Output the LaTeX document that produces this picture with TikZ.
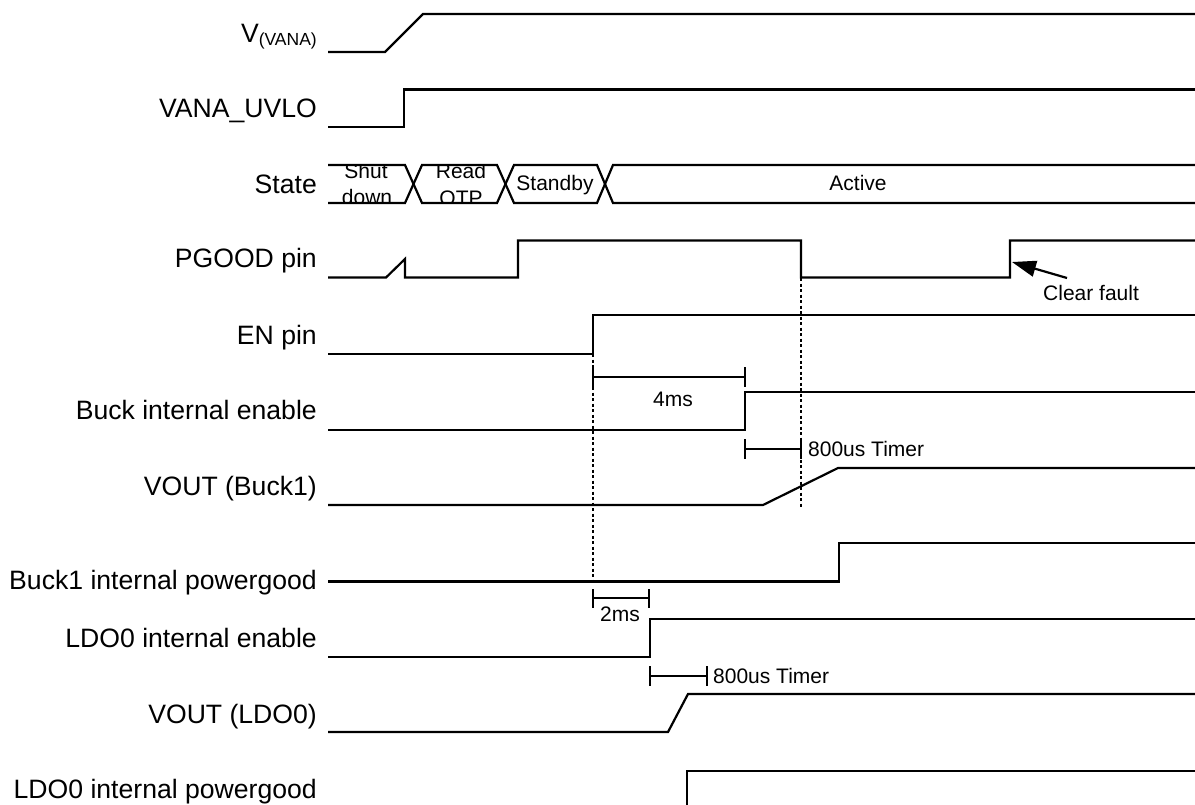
\documentclass[tikz,border=0pt]{standalone}
\usepackage{fontspec}
\setmainfont{Liberation Sans}
\usetikzlibrary{arrows.meta}
\begin{document}
\begin{tikzpicture}[x=1pt,y=-1pt,
  sig/.style={line width=2.2pt, line join=miter},
  lbl/.style={anchor=base east, inner sep=0pt, font=\fontsize{26.6}{30}\selectfont},
  small/.style={inner sep=0pt, font=\fontsize{21}{24}\selectfont},
  guide/.style={line width=1.8pt, dash pattern=on 3.3pt off 2.2pt},
  dimline/.style={line width=2.2pt},
  pointer/.style={line width=2.2pt, -{Triangle[length=24pt,width=16pt]}}]
\useasboundingbox (0,0) rectangle (1195,804);

% labels
\node[lbl] (l1) at (317,42) {V\raisebox{-3.5pt}{\fontsize{17.5}{20}\selectfont(VANA)}};
\node[lbl] (l2) at (317,117) {VANA\_UVLO};
\node[lbl] (l3) at (317,193) {State};
\node[lbl] (l4) at (317,267) {PGOOD pin};
\node[lbl] (l5) at (317,344) {EN pin};
\node[lbl] (l6) at (317,419) {Buck internal enable};
\node[lbl] (l7) at (317,495) {VOUT (Buck1)};
\node[lbl] (l8) at (317,589) {Buck1 internal powergood};
\node[lbl] (l9) at (317,647) {LDO0 internal enable};
\node[lbl] (l10) at (317,723) {VOUT (LDO0)};
\node[lbl] (l11) at (317,798) {LDO0 internal powergood};

% waveforms
\draw[sig] (328,52) -- (385,52) -- (423,14) -- (1195,14);
\draw[sig] (328,127) -- (404,127) -- (404,89.5) -- (1195,89.5);
\draw[sig] (328,165) -- (405,165) -- (422,203) -- (497,203) -- (514,165) -- (597,165) -- (613,203) -- (1195,203);
\draw[sig] (328,203) -- (405,203) -- (422,165) -- (497,165) -- (514,203) -- (597,203) -- (613,165) -- (1195,165);
\begin{scope}
  \clip (328,166) rectangle (1195,202);
  \node[small, anchor=base] (s1a) at (366,178) {Shut};
  \node[small, anchor=base] (s1b) at (367,204) {down};
  \node[small, anchor=base] (s2a) at (461,178) {Read};
  \node[small, anchor=base] (s2b) at (461,205) {OTP};
\end{scope}
\node[small, anchor=base] (s3) at (555,190) {Standby};
\node[small, anchor=base] (s4) at (858,190.5) {Active};

\draw[sig] (328,277.5) -- (386,277.5) -- (405,259) -- (405,277.5) -- (518,277.5) -- (518,240.5) -- (801,240.5) -- (801,277.5) -- (1010,277.5) -- (1010,240.5) -- (1195,240.5);
\draw[sig] (328,354) -- (593,354) -- (593,315) -- (1195,315);
\draw[sig] (328,430) -- (745,430) -- (745,392) -- (1195,392);
\draw[sig] (328,505) -- (763,505) -- (838,468) -- (1195,468);
\draw[sig] (328,581.5) -- (839,581.5) -- (839,543) -- (1195,543);
\draw[sig] (328,657) -- (650,657) -- (650,619) -- (1195,619);
\draw[sig] (328,732) -- (668,732) -- (688,694) -- (1195,694);
\draw[sig] (687,805) -- (687,771) -- (1195,771);

% guides
\draw[guide] (593,354) -- (593,582);
\draw[guide] (801,278) -- (801,507);

% 4ms
\coordinate (a1) at (593,377); \coordinate (a2) at (745,377);
\draw[dimline] (593,367) -- (593,387);
\draw[dimline] (745,367) -- (745,387);
\draw[dimline] (a1) -- (a2);
\node[small] (t4ms) at (673,399) {4ms};

% 800us Buck
\coordinate (b1) at (745,449); \coordinate (b2) at (801,449);
\draw[dimline] (745,439) -- (745,459);
\draw[dimline] (801,439) -- (801,459);
\draw[dimline] (b1) -- (b2);
\node[small, anchor=west] (t800a) at (808,449) {800us Timer};

% 2ms
\coordinate (c1) at (593,598); \coordinate (c2) at (649,598);
\draw[dimline] (593,589) -- (593,608);
\draw[dimline] (649,589) -- (649,608);
\draw[dimline] (c1) -- (c2);
\node[small, anchor=base] (t2ms) at (620,621) {2ms};

% 800us LDO
\coordinate (d1) at (650,676); \coordinate (d2) at (707,676);
\draw[dimline] (650,666) -- (650,686);
\draw[dimline] (707,666) -- (707,686);
\draw[dimline] (d1) -- (d2);
\node[small, anchor=west] (t800b) at (713,676) {800us Timer};

% clear fault
\node[small, anchor=base west] (cf) at (1043,300) {Clear fault};
\coordinate (cftail) at (1067,278);
\coordinate (cftip) at (1012,262);
\draw[pointer] (cftail) -- (cftip);
\end{tikzpicture}
\end{document}
